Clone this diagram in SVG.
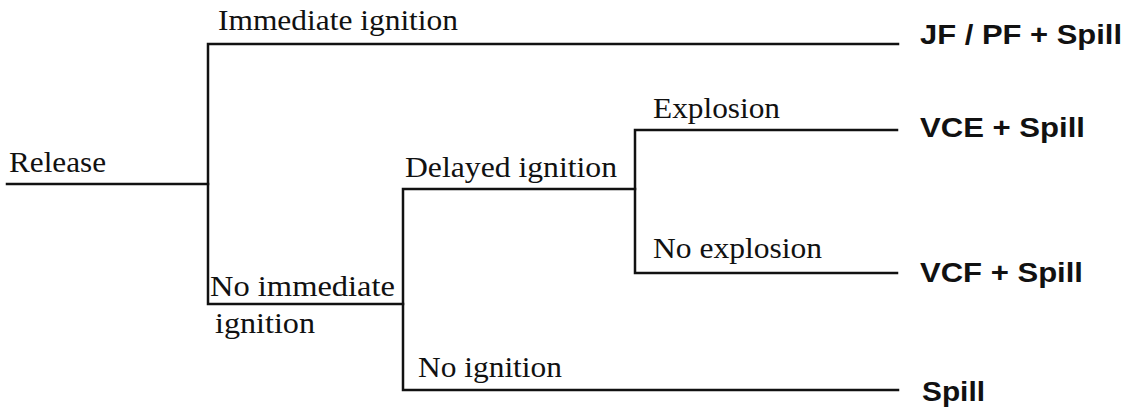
<svg xmlns="http://www.w3.org/2000/svg" width="1136" height="414" viewBox="0 0 1136 414">
<style>
.lbl{font-family:"Liberation Serif","Times New Roman",serif;font-size:30px;fill:#111}
.out{font-family:"Liberation Sans",Arial,sans-serif;font-size:28px;font-weight:bold;fill:#111}
.ln{stroke:#111;stroke-width:2.5;fill:none;stroke-linecap:square}
</style>
<rect width="1136" height="414" fill="#fff"/>
<g id="connectors">
<polyline class="ln" points="7,184 208,184"/>
<polyline class="ln" points="898,44 208,44 208,304 403,304"/>
<polyline class="ln" points="635,189 403,189 403,390 898,390"/>
<polyline class="ln" points="897,130 635,130 635,273 897,273"/>
</g>
<g id="release"><text class="lbl" x="9" y="172" textLength="97" lengthAdjust="spacingAndGlyphs">Release</text></g>
<g id="immediate-ignition"><text class="lbl" x="218" y="30" textLength="240" lengthAdjust="spacingAndGlyphs">Immediate ignition</text></g>
<g id="no-immediate-ignition"><text class="lbl" x="210" y="296" textLength="185" lengthAdjust="spacingAndGlyphs">No immediate</text><text class="lbl" x="215" y="333" textLength="100" lengthAdjust="spacingAndGlyphs">ignition</text></g>
<g id="delayed-ignition"><text class="lbl" x="405" y="177" textLength="212" lengthAdjust="spacingAndGlyphs">Delayed ignition</text></g>
<g id="no-ignition"><text class="lbl" x="418" y="377" textLength="144" lengthAdjust="spacingAndGlyphs">No ignition</text></g>
<g id="explosion"><text class="lbl" x="653" y="118" textLength="127" lengthAdjust="spacingAndGlyphs">Explosion</text></g>
<g id="no-explosion"><text class="lbl" x="653" y="258" textLength="169" lengthAdjust="spacingAndGlyphs">No explosion</text></g>
<g id="out-jf"><text class="out" x="920" y="44" textLength="202" lengthAdjust="spacingAndGlyphs">JF / PF + Spill</text></g>
<g id="out-vce"><text class="out" x="920" y="137" textLength="165" lengthAdjust="spacingAndGlyphs">VCE + Spill</text></g>
<g id="out-vcf"><text class="out" x="920" y="282" textLength="163" lengthAdjust="spacingAndGlyphs">VCF + Spill</text></g>
<g id="out-spill"><text class="out" x="922" y="401" textLength="63" lengthAdjust="spacingAndGlyphs">Spill</text></g>
</svg>
